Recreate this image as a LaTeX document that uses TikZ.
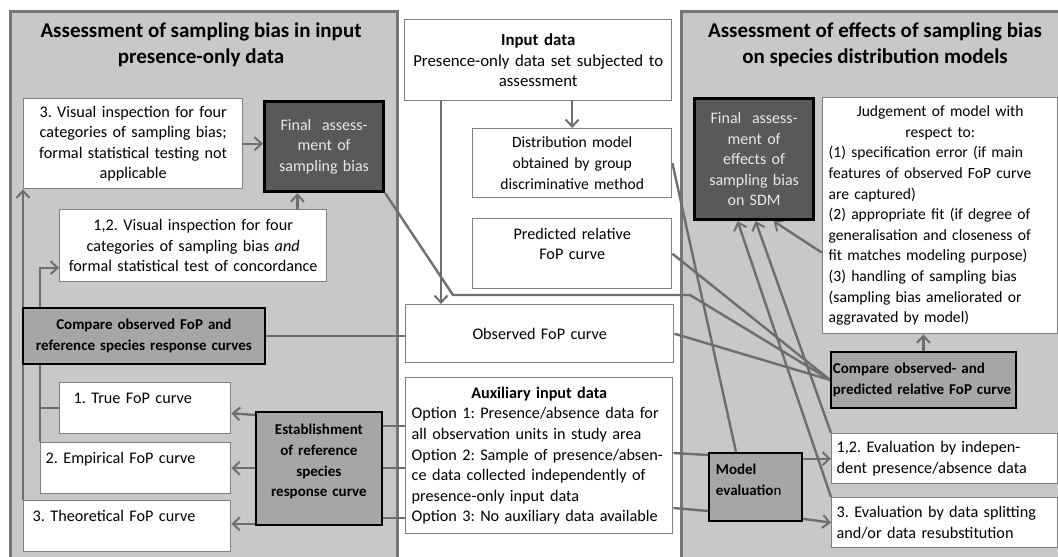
\documentclass[tikz,border=0pt]{standalone}
\usepackage{fontspec}
\setmainfont{Carlito}
\frenchspacing
\usetikzlibrary{arrows.meta}
\definecolor{panelfill}{HTML}{C8C8C8}
\definecolor{paneledge}{HTML}{777777}
\definecolor{darkfill}{HTML}{595959}
\definecolor{midfill}{HTML}{A6A6A6}
\definecolor{linkgray}{HTML}{6E6E6E}
\definecolor{boxedge}{HTML}{808080}
\definecolor{lighttext}{HTML}{E8E8E8}
\pgfdeclarelayer{back}
\pgfdeclarelayer{mid}
\pgfsetlayers{back,mid,main}

\begin{document}
\begin{tikzpicture}[x=0.5pt,y=-0.5pt,
  panel/.style={fill=panelfill,draw=paneledge,line width=1.5pt},
  paneltitle/.style={font=\fontsize{10.5pt}{13pt}\selectfont\bfseries,align=center},
  whitebox/.style={font=\fontsize{8.1pt}{10.3pt}\selectfont,draw=boxedge,fill=white,line width=0.7pt,anchor=north west,inner sep=0pt},
  midbox/.style={font=\fontsize{7.5pt}{10.3pt}\selectfont\bfseries,draw=black,fill=midfill,line width=0.9pt,anchor=north west,inner sep=0pt},
  darkbox/.style={font=\fontsize{8pt}{10.3pt}\selectfont,draw=black,fill=darkfill,line width=1.6pt,text=lighttext,anchor=north west,inner sep=0pt,align=center},
  link/.style={draw=linkgray,line width=1.2pt},
  linkarrow/.style={link,-{Straight Barb[length=3.5pt,width=6.5pt,line width=1pt]}}]
\useasboundingbox (0,0) rectangle (1058,556);
\begin{pgfonlayer}{back}
\draw[panel] (10,12) rectangle (397,575);
\draw[panel] (681,12) rectangle (1075,575);
\end{pgfonlayer}
\node[paneltitle] (lefttitle) at (201,45) {Assessment of sampling bias in input\\presence-only data};
\node[paneltitle] (righttitle) at (875,45) {Assessment of effects of sampling bias\\on species distribution models};

\node[whitebox,minimum width=109.5pt,minimum height=45pt,text width=106pt,align=center] (vis3) at (23,98) {3. Visual inspection for four\\categories of sampling bias;\\formal statistical testing not\\applicable};
\node[darkbox,minimum width=59.5pt,minimum height=45pt,text width=57pt] (finbias) at (263,100) {Final~~assess-\\ment of\\sampling bias};
\node[whitebox,minimum width=133.5pt,minimum height=36pt,text width=131pt,align=center] (vis12) at (59,209) {1,2. Visual inspection for four\\categories of sampling bias \textit{and}\\formal statistical test of concordance};
\node[midbox,minimum width=121pt,minimum height=28pt,text width=120pt,align=center] (cmpref) at (22,307) {Compare observed FoP and\\reference species response curves};
\node[whitebox,inner xsep=7pt,minimum width=85.5pt,text width=71.5pt,align=left,text height=10.25pt,text depth=15.25pt] (truefop) at (59,382) {1. True FoP curve};
\node[whitebox,inner xsep=2.5pt,minimum width=95pt,text width=90pt,align=left,text height=10.25pt,text depth=15.25pt] (empfop) at (40,442) {2. Empirical FoP curve};
\node[whitebox,inner xsep=4.5pt,minimum width=103.5pt,text width=94.5pt,align=left,text height=10.25pt,text depth=15.25pt] (theofop) at (23,500) {3. Theoretical FoP curve};
\node[midbox,minimum width=63pt,text width=62pt,align=center,text height=11.5pt,text depth=45pt] (estab) at (255,411) {Establishment\\of reference\\species\\response curve};

\node[whitebox,font=\fontsize{8.4pt}{10.3pt}\selectfont,minimum width=133.5pt,minimum height=40.5pt,text width=131pt,align=center] (input) at (404,19) {\textbf{Input data}\\Presence-only data set subjected to\\assessment};
\node[whitebox,font=\fontsize{7.8pt}{10.3pt}\selectfont,minimum width=99.5pt,minimum height=34.5pt,text width=97pt,align=center] (distr) at (472,128) {Distribution model\\obtained by group\\discriminative method};
\node[whitebox,minimum width=99.5pt,text width=97pt,align=center,text height=10.25pt,text depth=24.75pt] (pred) at (472,218) {Predicted relative\\FoP curve};
\node[whitebox,minimum width=134pt,minimum height=29pt,text width=131pt,align=center] (obsfop) at (405,304) {Observed FoP curve};
\node[whitebox,inner xsep=3pt,minimum width=133.5pt,minimum height=78pt,text width=127.5pt,align=left] (aux) at (405,377) {\makebox[\linewidth]{\textbf{Auxiliary input data}}\\Option 1: Presence/absence data for\\all observation units in study area\\Option 2: Sample of presence/absen-\\ce data collected independently of\\presence-only input data\\Option 3: No auxiliary data available};

\node[darkbox,minimum width=59.5pt,minimum height=60.5pt,text width=57pt] (finsdm) at (693,97) {Final~~assess-\\ment of\\effects of\\sampling bias\\on SDM};
\node[whitebox,font=\fontsize{7.8pt}{10.3pt}\selectfont,inner xsep=3pt,minimum width=117.5pt,minimum height=118pt,text width=111.5pt,align=left] (judge) at (822,97) {\makebox[\linewidth]{Judgement of model with}\\\makebox[\linewidth]{respect to:}\\(1) specification error (if main\\features of observed FoP curve\\are captured)\\(2) appropriate fit (if degree of\\generalisation and closeness of\\fit matches modeling purpose)\\(3) handling of sampling bias\\(sampling bias ameliorated or\\aggravated by model)};
\node[midbox,inner xsep=1pt,minimum width=92.5pt,minimum height=28pt,text width=90.5pt,align=left] (cmppred) at (830,351) {Compare observed- and\\predicted relative FoP curve};
\node[whitebox,inner xsep=2.5pt,minimum width=113pt,minimum height=25pt,text width=108pt,align=left] (eval12) at (831,433) {1,2. Evaluation by indepen-\\dent presence/absence data};
\node[whitebox,inner xsep=2.5pt,minimum width=113pt,minimum height=25pt,text width=108pt,align=left] (eval3) at (831,497) {3. Evaluation by data splitting\\and/or data resubstitution};
\node[midbox,inner xsep=3.5pt,minimum width=46.5pt,text width=39.5pt,align=left,text height=10.75pt,text depth=23.25pt] (modeval) at (708,452) {Model\\evaluatio\textmd{n}};

\coordinate (bend1) at (453,295);
\coordinate (bend2) at (690,295);
\begin{pgfonlayer}{mid}
\draw[linkarrow] (vis3.east) -- (vis3.east -| finbias.west);
\draw[linkarrow] ([xshift=-15pt]vis12.north east) -- ([xshift=-15pt]vis12.north east |- finbias.south);
\draw[link] (cmpref.east) -- (cmpref.east -| obsfop.west);
\draw[linkarrow] (empfop.north west) |- ([yshift=-11pt]vis12.west);
\draw[link] (truefop.west) -- (truefop.west -| empfop.west);
\draw[linkarrow] (theofop.north west) -- (theofop.north west |- vis3.south);
\draw[linkarrow] ([yshift=-2pt]estab.north west) -- ([yshift=-2.5pt]truefop.east);
\draw[linkarrow] (empfop.east -| estab.west) -- (empfop.east);
\draw[linkarrow] ([yshift=1pt]estab.south west) -- ([yshift=1pt]estab.south west -| theofop.east);
\draw[link] ([yshift=-24.5pt]aux.north west) -- ([yshift=-24.5pt]aux.north west -| estab.east);
\draw[link] ([yshift=-45.5pt]aux.north west) -- ([yshift=-45.5pt]aux.north west -| estab.east);
\draw[link] ([yshift=-70.5pt]aux.north west) -- ([yshift=-70.5pt]aux.north west -| estab.east);
\draw[link] ([yshift=-38pt]aux.north east) -- ([yshift=-1.5pt]modeval.north west);
\draw[link] ([yshift=-65.5pt]aux.north east) -- ([yshift=-29.5pt]modeval.north west);
\draw[linkarrow] (eval12.west -| modeval.east) -- (eval12.west);
\draw[linkarrow] ([yshift=1.5pt]modeval.south east) -- (eval3.west);
\draw[linkarrow] (input.south -| distr.north) -- (distr.north);
\draw[linkarrow] ([xshift=18.5pt]input.south west) -- ([xshift=18.5pt]input.south west |- obsfop.north);
\draw[link] (distr.east) -- ([xshift=14pt]modeval.north west);
\draw[link] (finbias.south east) -- (bend1) -- (bend2) -- (cmppred.west);
\draw[link] (pred.east) -- (cmppred.west);
\draw[link] (obsfop.east) -- (cmppred.west);
\draw[linkarrow] ([yshift=-18.5pt]judge.west) -- ([xshift=9.75pt]finsdm.south);
\draw[linkarrow] (eval12.north west) -- ([xshift=0.75pt]finsdm.south);
\draw[linkarrow] (eval3.north west) -- ([xshift=-8.25pt]finsdm.south);
\draw[linkarrow] (cmppred.north) -- (cmppred.north |- judge.south);
\end{pgfonlayer}
\end{tikzpicture}
\end{document}
